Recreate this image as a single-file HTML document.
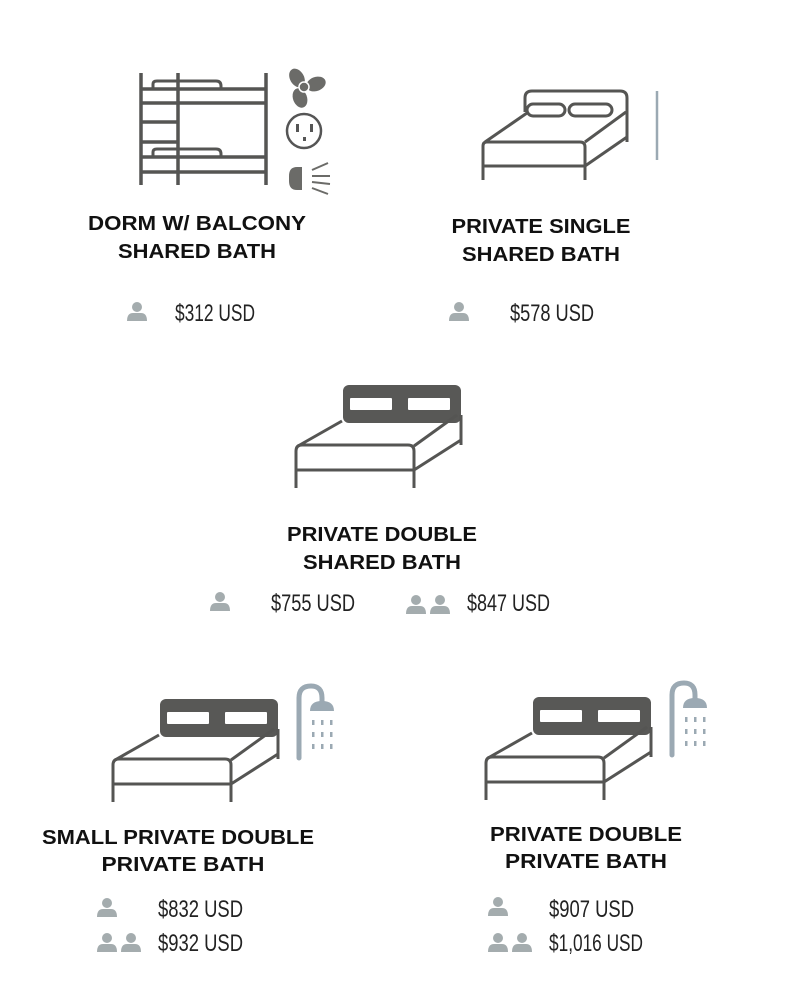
<!DOCTYPE html>
<html><head><meta charset="utf-8"><style>
html,body{margin:0;padding:0;background:#fff;}
svg{display:block;}
.t{font-family:"Liberation Sans",sans-serif;font-weight:bold;font-size:20px;fill:#111;}
.p{font-family:"Liberation Sans Narrow","Liberation Sans",sans-serif;font-size:24px;fill:#222;}
</style></head><body>
<svg width="800" height="1000" viewBox="0 0 800 1000" xmlns="http://www.w3.org/2000/svg">
<defs>
 <g id="bed">
  <rect x="47" y="0" width="118" height="38" rx="6" fill="#585856"/>
  <rect x="54" y="13" width="42" height="12" rx="1" fill="#fff"/>
  <rect x="112" y="13" width="42" height="12" rx="1" fill="#fff"/>
  <g fill="none" stroke="#555553" stroke-width="3" stroke-linejoin="round">
   <path d="M46,36 L2,61"/>
   <path d="M161,30 L118,61"/>
   <path d="M0,103 V66 Q0,60 6,60 H112 Q118,60 118,66 V103"/>
   <path d="M0,85 H118"/>
   <path d="M118,85 L165,55"/>
   <path d="M165,30 V60"/>
  </g>
 </g>
 <g id="person" fill="#a4acae">
  <circle cx="0" cy="-5" r="5"/>
  <path d="M-10,9 Q-10,1 -4,1 H4 Q10,1 10,9 Z"/>
 </g>
 <g id="shower">
  <path d="M3,75 V15 Q3,3 15,3 Q26,3 26,15 V20" fill="none" stroke="#9ba9b3" stroke-width="5" stroke-linecap="round"/>
  <path d="M14,28 Q14,18 26,18 Q38,18 38,28 Z" fill="#9ba9b3"/>
  <g fill="#9ba9b3">
   <rect x="16" y="37" width="2.5" height="5"/><rect x="25" y="37" width="2.5" height="5"/><rect x="34" y="37" width="2.5" height="5"/>
   <rect x="16" y="49" width="2.5" height="5"/><rect x="25" y="49" width="2.5" height="5"/><rect x="34" y="49" width="2.5" height="5"/>
   <rect x="16" y="61" width="2.5" height="5"/><rect x="25" y="61" width="2.5" height="5"/><rect x="34" y="61" width="2.5" height="5"/>
  </g>
 </g>
</defs>

<g fill="none" stroke="#555553" stroke-width="3.5">
 <path d="M141,73 V185 M178,73 V185 M266,73 V185"/>
 <path d="M141,89 H266 M141,103 H266 M141,122 H178 M141,142 H178 M141,157 H266 M141,172 H266"/>
 <path d="M153,89 V84 Q153,81 157,81 H216 Q221,81 221,86 V89" stroke-width="3"/>
 <path d="M153,157 V152 Q153,149 157,149 H216 Q221,149 221,154 V157" stroke-width="3"/>
</g>
<g fill="#6b6b68">
 <ellipse cx="297" cy="78" rx="7" ry="10" transform="rotate(-30 297 78)"/>
 <ellipse cx="316" cy="84" rx="7" ry="10" transform="rotate(70 316 84)"/>
 <ellipse cx="300" cy="98" rx="7" ry="10" transform="rotate(160 300 98)"/>
 <circle cx="304" cy="87" r="5" stroke="#fff" stroke-width="1.5"/>
</g>
<circle cx="304" cy="131" r="17" fill="none" stroke="#555" stroke-width="2.5"/>
<rect x="296" y="124" width="3" height="8" fill="#555"/><rect x="310" y="124" width="3" height="8" fill="#555"/>
<rect x="303" y="137" width="3" height="4" fill="#555"/>
<path d="M302,167 V190 H297 Q289,190 289,181 V176 Q289,167 297,167 Z" fill="#6b6b68"/>
<g stroke="#6b6b68" stroke-width="2"><path d="M312,170 L328,163 M312,176 L330,176 M312,182 L330,184 M312,188 L328,194"/></g>

<g fill="none" stroke="#555553" stroke-width="3" stroke-linejoin="round">
 <path d="M525,112 V98 Q525,91 532,91 H620 Q627,91 627,98 V142"/>
 <rect x="527" y="104" width="38" height="12" rx="6"/>
 <rect x="569" y="104" width="43" height="12" rx="6"/>
 <path d="M527,113 L485,142"/>
 <path d="M626,112 L585,142"/>
 <path d="M483,180 V146 Q483,142 487,142 H580 Q585,142 585,147 V180"/>
 <path d="M483,166 H585"/>
 <path d="M585,166 L627,137"/>
</g>
<path d="M657,91 V160" stroke="#9ba9b3" stroke-width="2.5"/>

<use href="#bed" x="296" y="385"/>
<use href="#bed" x="113" y="699"/>
<use href="#bed" x="486" y="697"/>
<use href="#shower" x="296" y="683"/>
<use href="#shower" x="669" y="680"/>

<g class="t" text-anchor="middle">
 <text x="197" y="230" textLength="218" lengthAdjust="spacingAndGlyphs">DORM W/ BALCONY</text>
 <text x="197" y="258" textLength="158" lengthAdjust="spacingAndGlyphs">SHARED BATH</text>
 <text x="541" y="233" textLength="179" lengthAdjust="spacingAndGlyphs">PRIVATE SINGLE</text>
 <text x="541" y="261" textLength="158" lengthAdjust="spacingAndGlyphs">SHARED BATH</text>
 <text x="382" y="541" textLength="190" lengthAdjust="spacingAndGlyphs">PRIVATE DOUBLE</text>
 <text x="382" y="569" textLength="158" lengthAdjust="spacingAndGlyphs">SHARED BATH</text>
 <text x="178" y="844" textLength="272" lengthAdjust="spacingAndGlyphs">SMALL PRIVATE DOUBLE</text>
 <text x="183" y="871" textLength="163" lengthAdjust="spacingAndGlyphs">PRIVATE BATH</text>
 <text x="586" y="841" textLength="192" lengthAdjust="spacingAndGlyphs">PRIVATE DOUBLE</text>
 <text x="586" y="868" textLength="162" lengthAdjust="spacingAndGlyphs">PRIVATE BATH</text>
</g>

<g class="p">
 <text x="175" y="321" textLength="80" lengthAdjust="spacingAndGlyphs">$312 USD</text>
 <text x="510" y="321" textLength="84" lengthAdjust="spacingAndGlyphs">$578 USD</text>
 <text x="271" y="611" textLength="84" lengthAdjust="spacingAndGlyphs">$755 USD</text>
 <text x="467" y="611" textLength="83" lengthAdjust="spacingAndGlyphs">$847 USD</text>
 <text x="158" y="917" textLength="85" lengthAdjust="spacingAndGlyphs">$832 USD</text>
 <text x="158" y="951" textLength="85" lengthAdjust="spacingAndGlyphs">$932 USD</text>
 <text x="549" y="917" textLength="85" lengthAdjust="spacingAndGlyphs">$907 USD</text>
 <text x="549" y="951" textLength="94" lengthAdjust="spacingAndGlyphs">$1,016 USD</text>
</g>

<use href="#person" x="137" y="312"/>
<use href="#person" x="459" y="312"/>
<use href="#person" x="220" y="602"/>
<use href="#person" x="416" y="605"/>
<use href="#person" x="440" y="605"/>
<use href="#person" x="107" y="908"/>
<use href="#person" x="107" y="943"/>
<use href="#person" x="131" y="943"/>
<use href="#person" x="498" y="907"/>
<use href="#person" x="498" y="943"/>
<use href="#person" x="522" y="943"/>
</svg>
</body></html>
